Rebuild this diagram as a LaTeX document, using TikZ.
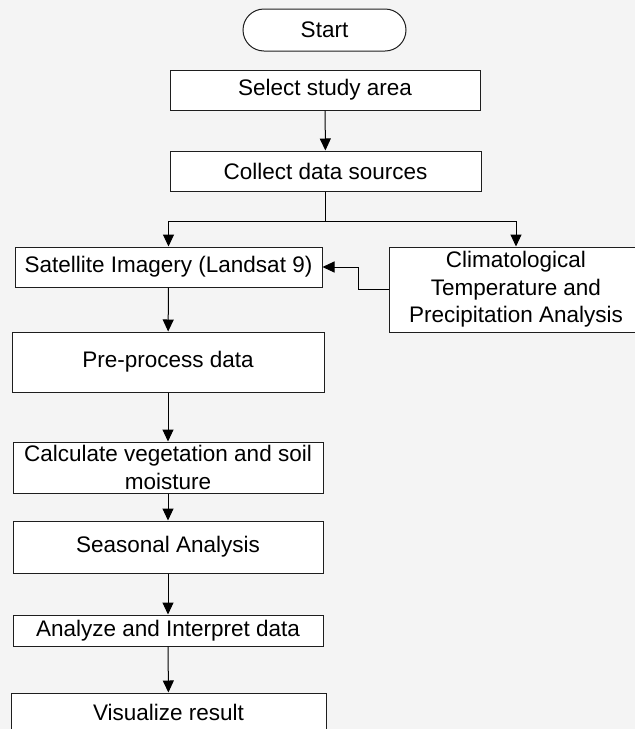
\documentclass[tikz,border=0pt]{standalone}
\usepackage{fontspec}
\setmainfont{Liberation Sans}
\usetikzlibrary{arrows.meta}
\definecolor{bgc}{RGB}{244,244,244}
\definecolor{edgec}{RGB}{30,30,30}
\tikzset{
  box/.style={draw=edgec,line width=1pt,fill=white,inner sep=0pt,align=center,
    font=\fontsize{22.5}{27.5}\selectfont},
  term/.style={box,rounded corners=21pt},
  arr/.style={line width=1pt,-{Triangle[width=11pt,length=12pt]}}
}
\begin{document}
\begin{tikzpicture}[x=1pt,y=-1pt]
\fill[bgc](0,0) rectangle (635,729);
\useasboundingbox (0,0) rectangle (635,729);
\node[term,minimum width=163,minimum height=42] (start) at (324.5,30) {Start};
\node[box,minimum width=310,minimum height=40] (select) at (325,90) {Select study area};
\node[box,minimum width=311,minimum height=40] (collect) at (325.5,171) {Collect data sources};
\node[box,minimum width=307,minimum height=40] (sat) at (168.5,267) {Satellite Imagery (Landsat 9)};
\node[box,minimum width=254,minimum height=85] (clim) at (516,289.5)
  {Climatological\\Temperature and\\Precipitation Analysis};
\node[box,minimum width=312,minimum height=60] (pre) at (168,362) {Pre-process data};
\node[box,minimum width=310,minimum height=51] (calc) at (168,467.5)
  {Calculate vegetation and soil\\moisture};
\node[box,minimum width=310,minimum height=52] (seas) at (168,547) {Seasonal Analysis};
\node[box,minimum width=310,minimum height=31] (anal) at (168,630.5) {Analyze and Interpret data};
\node[box,minimum width=315,minimum height=38] (vis) at (168.5,712) {Visualize result};
\coordinate (split) at (325.5,221);
% connectors
\draw[arr] (select) -- (collect);
\draw[line width=1pt] (collect.south) -- (split);
\draw[arr] (split) -| (sat.north);
\draw[arr] (split) -| (clim.north);
\draw[arr] (clim.west) -- ++(-30,0) |- (sat.east);
\draw[arr] (sat) -- (pre);
\draw[arr] (pre) -- (calc);
\draw[arr] (calc) -- (seas);
\draw[arr] (seas) -- (anal);
\draw[arr] (anal) -- (vis);
\end{tikzpicture}
\end{document}
